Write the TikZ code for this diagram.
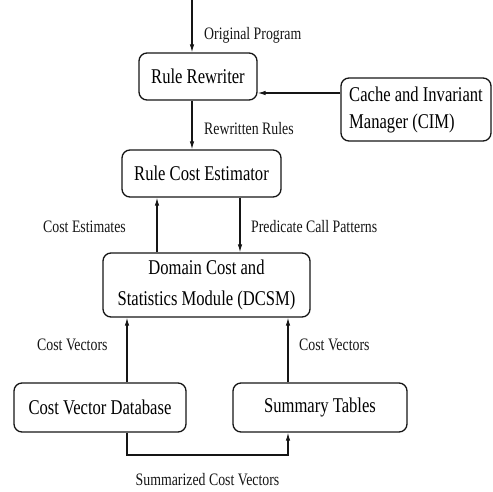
\documentclass[tikz,border=0pt]{standalone}
\usepackage{fontspec}
\usepackage{tikz}
\usetikzlibrary{arrows.meta}
\setmainfont{Liberation Serif}[FakeStretch=0.79]
\definecolor{inkcolor}{HTML}{151515}
\newcommand{\boxfont}{\fontsize{21}{27}\selectfont}
\newcommand{\flowfont}{\fontsize{17.5}{20}\selectfont}
\tikzstyle{modbox} = [
    draw=inkcolor,
    line width=1.3pt,
    rectangle,
    rounded corners=8pt,
    inner sep=5pt,
    font=\boxfont
    ]
\tikzstyle{flowlabel} = [
    anchor=base west,
    inner sep=0pt,
    text=inkcolor,
    font=\flowfont
    ]
\tikzstyle{flowarrow} = [
    draw=inkcolor,
    line width=1.1pt,
    -{Latex[length=8pt,width=4.5pt]}
    ]

\begin{document}
\begin{tikzpicture}[x=1pt,y=-1pt]
\useasboundingbox (0,0) rectangle (493,491);
% modules
\node [modbox, minimum width=118pt, minimum height=47pt] (rewriter) at (198,76.5) {Rule Rewriter};
\node [modbox, minimum width=150pt, minimum height=63pt, align=left] (cim) at (416,109.5)
    {Cache and Invariant\\Manager (CIM)};
\node [modbox, minimum width=159pt, minimum height=47pt] (estimator) at (201.5,173.5) {Rule Cost Estimator};
\node [modbox, minimum width=207pt, minimum height=64pt, align=center, font=\fontsize{21}{31}\selectfont] (dcsm) at (206.5,285)
    {Domain Cost and\\Statistics Module (DCSM)};
\node [modbox, minimum width=172pt, minimum height=49pt] (vectordb) at (100,407.5) {Cost Vector Database};
\node [modbox, minimum width=174pt, minimum height=49pt] (summary) at (320,407.5) {Summary Tables};
% columns for the connectors
\coordinate (progin) at (192,0);
\coordinate (estup) at (157,0);
\coordinate (calldown) at (240,0);
\coordinate (dbup) at (127,0);
\coordinate (sumup) at (288,0);
\coordinate (sumbase) at (0,455);
% connectors
\draw [flowarrow] (progin) -- (progin |- rewriter.north);
\draw [flowarrow] (cim.west |- 0,93) -- (rewriter.east |- 0,93);
\draw [flowarrow] (progin |- rewriter.south) -- (progin |- estimator.north);
\draw [flowarrow] (estup |- dcsm.north) -- (estup |- estimator.south);
\draw [flowarrow] (calldown |- estimator.south) -- (calldown |- dcsm.north);
\draw [flowarrow] (dbup |- vectordb.north) -- (dbup |- dcsm.south);
\draw [flowarrow] (sumup |- summary.north) -- (sumup |- dcsm.south);
\draw [flowarrow] (dbup |- vectordb.south) -- (dbup |- sumbase) -- (sumup |- sumbase) -- (sumup |- summary.south);
% labels
\node [flowlabel] (lprog) at (204,39) {Original Program};
\node [flowlabel] (lrules) at (204,134) {Rewritten Rules};
\node [flowlabel] (lest) at (43,232) {Cost Estimates};
\node [flowlabel] (lcall) at (251,232) {Predicate Call Patterns};
\node [flowlabel] (ldb) at (37,350) {Cost Vectors};
\node [flowlabel] (lsum) at (299,350) {Cost Vectors};
\node [flowlabel, anchor=base] (lsummar) at (207.5,485) {Summarized Cost Vectors};
\end{tikzpicture}
\end{document}
